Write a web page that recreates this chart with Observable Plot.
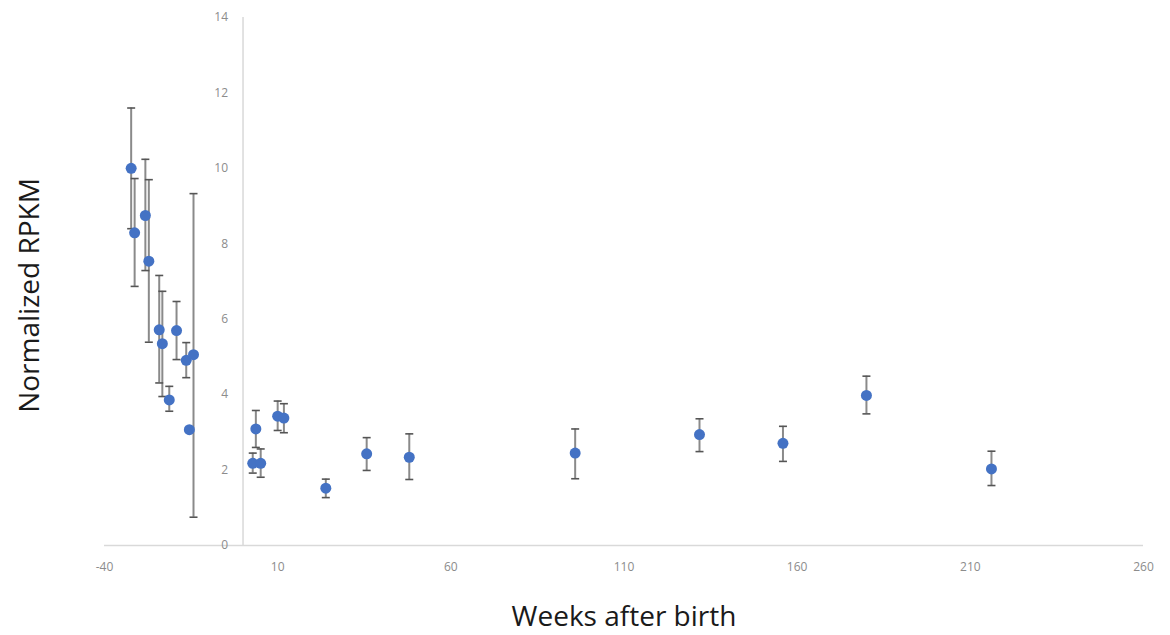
<!DOCTYPE html>
<html>
<head>
<meta charset="utf-8">
<script src="https://cdn.jsdelivr.net/npm/d3@7"></script>
<script src="https://cdn.jsdelivr.net/npm/@observablehq/plot@0.6"></script>
<style>
  html, body { margin: 0; padding: 0; background: #fff; }
  #chart { width: 1170px; height: 635px; }
</style>
</head>
<body>
<div id="chart"></div>
<script>
const weeks = [-32.3, -31.3, -28.2, -27.2, -24.2, -23.3, -21.3, -19.2, -16.4, -14.3, -15.5,
               2.8, 5.1, 3.7, 10.0, 11.8, 23.9, 35.7, 48.0, 95.9, 131.8, 155.9, 180.0, 216.1];
const rpkm  = [10.0, 8.29, 8.75, 7.54, 5.72, 5.35, 3.86, 5.70, 4.91, 5.06, 3.07,
               2.18, 2.18, 3.09, 3.43, 3.38, 1.52, 2.43, 2.34, 2.45, 2.94, 2.71, 3.98, 2.03];
const errUp = [1.60, 1.44, 1.49, 2.16, 1.44, 1.39, 0.36, 0.77, 0.47, 4.27, 0,
               0.27, 0.38, 0.49, 0.40, 0.38, 0.24, 0.43, 0.62, 0.64, 0.42, 0.45, 0.51, 0.47];
const errLo = [1.60, 1.42, 1.46, 2.15, 1.41, 1.40, 0.30, 0.77, 0.46, 4.31, 0,
               0.26, 0.37, 0.49, 0.38, 0.39, 0.25, 0.44, 0.59, 0.68, 0.45, 0.48, 0.49, 0.44];
const xTicks = [-40, 10, 60, 110, 160, 210, 260];
const yTicks = [0, 2, 4, 6, 8, 10, 12, 14];

const data = weeks.map((w, i) => ({
  week: w, value: rpkm[i], top: rpkm[i] + errUp[i], bottom: rpkm[i] - errLo[i]
}));
const bars = data.filter(d => d.top > d.bottom);

const cap = { draw(ctx) { ctx.moveTo(-4, 0); ctx.lineTo(4, 0); } };
const labelFont = "'Open Sans', 'Liberation Sans', sans-serif";
const axisGray = "#d9d9d9";
const tickTextGray = "#8c8c8c";
const barGray = "#8a8a8a";
const capGray = "#555555";

const chart = Plot.plot({
  width: 1170,
  height: 635,
  marginLeft: 104,
  marginRight: 27,
  marginTop: 17,
  marginBottom: 90,
  style: { fontFamily: labelFont, background: "#fff" },
  x: { domain: [-40, 260], axis: null },
  y: { domain: [0, 14], axis: null },
  marks: [
    Plot.ruleY([0], { x1: -40, x2: 260, stroke: axisGray, strokeWidth: 1.5 }),
    Plot.ruleX([0], { y1: 0, y2: 14, stroke: axisGray, strokeWidth: 1.5 }),
    Plot.text(xTicks, { x: d => d, y: 0, text: d => String(d), dy: 22, fill: tickTextGray, fontSize: 12 }),
    Plot.text(yTicks, { x: 0, y: d => d, text: d => String(d), dx: -15, textAnchor: "end", fill: tickTextGray, fontSize: 12 }),
    Plot.ruleX(bars, { x: "week", y1: "bottom", y2: "top", stroke: barGray, strokeWidth: 2 }),
    Plot.dot(bars, { x: "week", y: "top", symbol: cap, stroke: capGray, strokeWidth: 1.6, fill: "none", r: 4 }),
    Plot.dot(bars, { x: "week", y: "bottom", symbol: cap, stroke: capGray, strokeWidth: 1.6, fill: "none", r: 4 }),
    Plot.dot(data, { x: "week", y: "value", r: 5.5, fill: "#4472C4", stroke: "none" }),
    Plot.text(["Weeks after birth"], { frameAnchor: "bottom", lineAnchor: "middle", dy: 72, fontSize: 28, fill: "#1a1a1a" }),
    Plot.text(["Normalized RPKM"], { frameAnchor: "left", textAnchor: "middle", lineAnchor: "middle", dx: -74, dy: 14, rotate: -90, fontSize: 28, fill: "#1a1a1a" })
  ]
});
document.getElementById("chart").appendChild(chart);
</script>
</body>
</html>
